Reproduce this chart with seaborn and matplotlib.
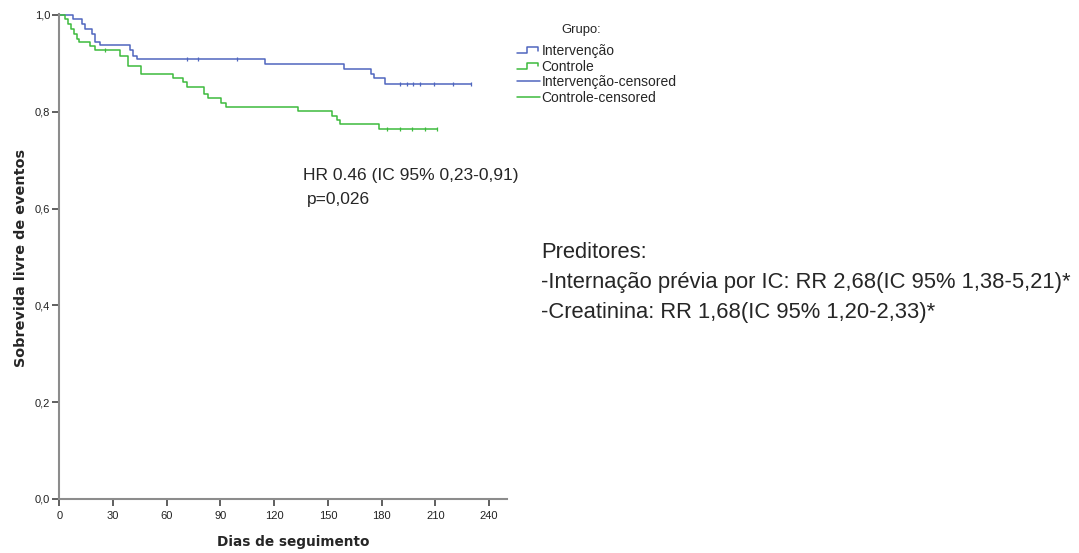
import numpy as np
import pandas as pd
import matplotlib
matplotlib.use('Agg')
import matplotlib.pyplot as plt
import seaborn as sns
from matplotlib.lines import Line2D
from matplotlib.legend_handler import HandlerBase

# Kaplan-Meier steps (days, survival)
interv_days = [0, 7.8, 12.5, 14.4, 18.5, 20, 22.7, 39.5, 41.3, 43.6, 115, 159, 174, 175.5, 181.6, 230]
interv_surv = [1.0, 0.992, 0.982, 0.972, 0.961, 0.945, 0.937, 0.927, 0.916, 0.908, 0.899, 0.889, 0.879, 0.869, 0.858, 0.858]
ctrl_days = [0, 3.2, 5, 6.5, 8.4, 9.7, 11, 17.2, 20, 34, 38.5, 45.5, 63.3, 69.3, 71.5,
             80.8, 83.2, 90.2, 93.1, 133.5, 152, 155, 157, 178.6, 211]
ctrl_surv = [1.0, 0.992, 0.982, 0.972, 0.961, 0.951, 0.945, 0.935, 0.927, 0.916, 0.895, 0.878, 0.869, 0.861, 0.852,
             0.837, 0.828, 0.819, 0.809, 0.801, 0.792, 0.783, 0.775, 0.765, 0.765]
interv_censor = [71.5, 77.7, 99.4, 190, 194, 197.6, 201.5, 209, 220, 230]
ctrl_censor = [25.5, 183, 190, 197, 204, 211]

x_ticks = [0, 30, 60, 90, 120, 150, 180, 210, 240]
y_ticks = [0.0, 0.2, 0.4, 0.6, 0.8, 1.0]
y_ticklabels = ['0,0', '0,2', '0,4', '0,6', '0,8', '1,0']

groups = ['Intervenção', 'Controle']
colors = {'Intervenção': '#4f66bf', 'Controle': '#3dbb3d'}


class StepHandler(HandlerBase):
    # little step icon like the SPSS legend
    def create_artists(self, legend, orig_handle, xdescent, ydescent, width, height, fontsize, trans):
        xs = np.array([0, 0.45, 0.45, 0.9, 0.9]) * width - xdescent
        ys = np.array([0.2, 0.2, 0.8, 0.8, 0.45]) * height - ydescent
        line = Line2D(xs, ys, color=orig_handle.get_color(), lw=orig_handle.get_linewidth())
        line.set_transform(trans)
        return [line]


def surv_at(days, surv, t):
    idx = np.searchsorted(days, t, side='right') - 1
    return np.array(surv)[idx]


sns.set_style('white')
plt.rcParams['font.family'] = ['Liberation Sans', 'DejaVu Sans']

df = pd.concat([
    pd.DataFrame({'dias': interv_days, 'sobrevida': interv_surv, 'grupo': 'Intervenção'}),
    pd.DataFrame({'dias': ctrl_days, 'sobrevida': ctrl_surv, 'grupo': 'Controle'}),
])

fig = plt.figure(figsize=(10.79, 5.53), dpi=100)
ax = fig.add_axes([59.3 / 1079, 1 - 499 / 553, (507 - 59.3) / 1079, (499 - 14) / 553])

sns.lineplot(data=df, x='dias', y='sobrevida', hue='grupo', palette=colors, hue_order=groups,
             drawstyle='steps-post', estimator=None, sort=False, legend=False, linewidth=1.1, ax=ax)

for g, d, s, c in [('Intervenção', interv_days, interv_surv, interv_censor),
                   ('Controle', ctrl_days, ctrl_surv, ctrl_censor)]:
    ax.plot(c, surv_at(d, s, c), linestyle='none', marker='|', ms=3, mew=0.9, color=colors[g])

ax.set_xlim(0, 250)
ax.set_ylim(0, 1.002)
ax.set_xticks(x_ticks)
ax.set_yticks(y_ticks)
ax.set_yticklabels(y_ticklabels)
ax.tick_params(direction='out', length=5, width=1.2, color='#444444', labelsize=8, pad=1.5,
               labelcolor='#222222')
ax.tick_params(axis='x', bottom=True, pad=3.5)
ax.tick_params(axis='y', left=True)
for side in ['top', 'right']:
    ax.spines[side].set_visible(False)
for side in ['left', 'bottom']:
    ax.spines[side].set_color('#8c8c8c')
    ax.spines[side].set_linewidth(1.5)

ax.set_xlabel('Dias de seguimento', fontsize=9.8, fontweight='bold', family='DejaVu Sans')
ax.set_ylabel('Sobrevida livre de eventos', fontsize=10.4, fontweight='bold', family='DejaVu Sans')
ax.xaxis.set_label_coords((293 - 59.3) / 447.7, -(535 - 499) / 485)
ax.yaxis.set_label_coords(-(59.3 - 28) / 447.7, 0.497)

# legend
handles = [Line2D([], [], color=colors['Intervenção'], lw=1.1),
           Line2D([], [], color=colors['Controle'], lw=1.1),
           Line2D([], [], color=colors['Intervenção'], lw=1.1),
           Line2D([], [], color=colors['Controle'], lw=1.1)]
labels = ['Intervenção', 'Controle', 'Intervenção-censored', 'Controle-censored']
fig.text(581 / 1079, 1 - 30 / 553, 'Grupo:', ha='center', va='center', fontsize=9.4)
fig.legend(handles, labels, loc='upper left', bbox_to_anchor=(517 / 1079, 1 - 44 / 553),
           frameon=False, fontsize=10, handlelength=1.65, handletextpad=0.12, labelspacing=0.12,
           borderpad=0, borderaxespad=0,
           handler_map={handles[0]: StepHandler(), handles[1]: StepHandler()})

# annotations
fig.text(303 / 1079, 1 - 180 / 553, 'HR 0.46 (IC 95% 0,23-0,91)', fontsize=12.5, va='baseline')
fig.text(307 / 1079, 1 - 204 / 553, 'p=0,026', fontsize=12.5, va='baseline')
fig.text(541 / 1079, 1 - 258 / 553, 'Preditores:', fontsize=15.8, va='baseline')
fig.text(541 / 1079, 1 - 288 / 553, '-Internação prévia por IC: RR 2,68(IC 95% 1,38-5,21)*',
         fontsize=15.8, va='baseline')
fig.text(541 / 1079, 1 - 318 / 553, '-Creatinina: RR 1,68(IC 95% 1,20-2,33)*', fontsize=15.8, va='baseline')

fig.savefig('out.png', dpi=100)
